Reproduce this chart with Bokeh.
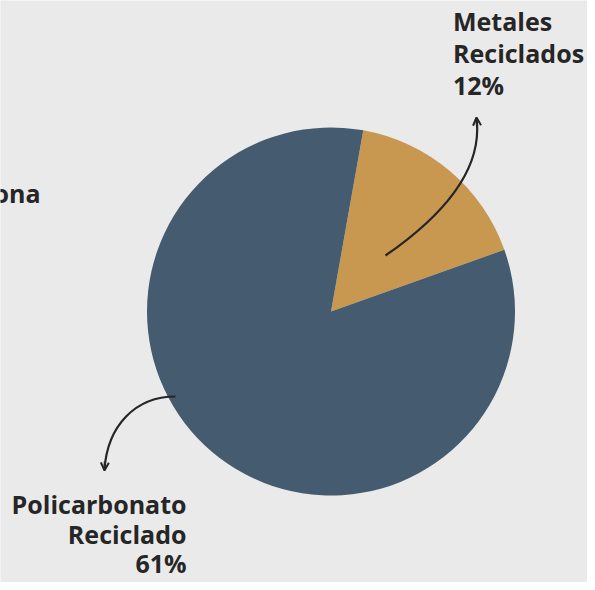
import math
from bokeh.plotting import figure
from bokeh.models import Range1d, Arrow, OpenHead
from bokeh.core.properties import value
from bokeh.embed import file_html
from bokeh.resources import INLINE

# ---- data ----
slices = ["Metales Reciclados", "Policarbonato Reciclado"]
shares = [16.75, 83.25]              # angular share of the pie as drawn (%)
colors = ["#C99850", "#455B6F"]
label_lines = [["Metales", "Reciclados", "12%"],
               ["Policarbonato", "Reciclado", "61%"]]
cut_label = ["Silicona"]

# ---- layout (reference pixel coordinates; y grows downward) ----
BG = "#EAEAEA"
INK = "#262626"
CX, CY, R = 330.5, 311.0, 184.0
START_DEG = 10.1                     # clockwise from 12 o'clock
W, H = 587, 582
TXT_SHIFT = -9.5                     # renderer baseline correction

def Y(y):
    return -y

p = figure(width=W, height=H, output_backend="svg", toolbar_location=None,
           x_range=Range1d(0, W), y_range=Range1d(-H, 0),
           min_border=0, background_fill_color=BG, border_fill_color=BG,
           outline_line_color=None)
p.axis.visible = False
p.grid.visible = False

# pie wedges
cum = START_DEG / 360 * 100
for s, c in zip(shares, colors):
    a0 = math.pi / 2 - cum / 100 * 2 * math.pi
    a1 = math.pi / 2 - (cum + s) / 100 * 2 * math.pi
    p.wedge(x=CX, y=Y(CY), radius=R, start_angle=a0, end_angle=a1,
            direction="clock", fill_color=c, line_color=None)
    cum += s

font = value("Open Sans")
FS = "25px"
# Metales label (left aligned)
for txt, by in zip(label_lines[0], [29.5, 61.5, 93.5]):
    p.text(x=[452.5], y=[Y(by + TXT_SHIFT)], text=[txt], text_font=font,
           text_font_style="bold", text_font_size=FS, text_color=INK,
           text_align="left", text_baseline="alphabetic")
# Policarbonato label (right aligned)
for txt, by in zip(label_lines[1], [513, 543, 572]):
    p.text(x=[186], y=[Y(by + TXT_SHIFT)], text=[txt], text_font=font,
           text_font_style="bold", text_font_size=FS, text_color=INK,
           text_align="right", text_baseline="alphabetic")
# cut-off label at left
p.text(x=[40], y=[Y(202 + TXT_SHIFT)], text=cut_label, text_font=font,
       text_font_style="bold", text_font_size=FS, text_color=INK,
       text_align="right", text_baseline="alphabetic")

# curved arrows
p.bezier(x0=[385], y0=[Y(255)], x1=[476], y1=[Y(118)],
         cx0=[450], cy0=[Y(210)], cx1=[482], cy1=[Y(165)],
         line_color=INK, line_width=2.2)
p.add_layout(Arrow(end=OpenHead(size=8, line_width=2, line_color=INK),
                   x_start=476.6, y_start=Y(126), x_end=476, y_end=Y(117),
                   line_color=INK, line_width=2.2))

p.bezier(x0=[175], y0=[Y(396)], x1=[104], y1=[Y(469)],
         cx0=[135], cy0=[Y(396)], cx1=[107], cy1=[Y(425)],
         line_color=INK, line_width=2.2)
p.add_layout(Arrow(end=OpenHead(size=8, line_width=2, line_color=INK),
                   x_start=104.4, y_start=Y(461), x_end=104, y_end=Y(470),
                   line_color=INK, line_width=2.2))

open("out.html", "w").write(file_html(p, INLINE))
